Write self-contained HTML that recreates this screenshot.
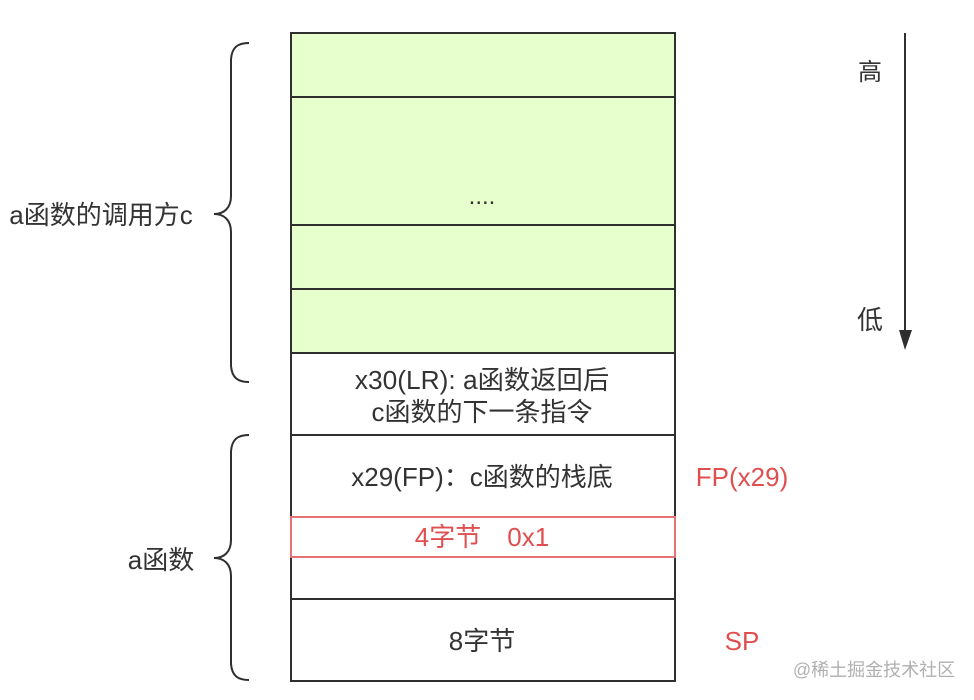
<!DOCTYPE html>
<html><head><meta charset="utf-8"><style>
html,body{margin:0;padding:0;background:#fff;width:974px;height:700px;overflow:hidden}
svg{display:block}
text{font-family:"Liberation Sans","Noto Sans CJK SC",sans-serif;font-size:26px;fill:#333;text-anchor:middle}
</style></head><body>
<svg width="974" height="700" viewBox="0 0 974 700">
<rect x="291.500" y="33" width="384" height="320" fill="#e6ffcc"/>
<g fill="none" stroke="#2f2f2f" stroke-width="2">
<rect x="291" y="33" width="384" height="648"/>
<path d="M291 97H675M291 225H675M291 289H675M291 353H675M291 435H675M291 599H675"/>
<path d="M249 43C238 43 232 47 231 59V196C231 208 224 214 214 214C224 214 231 220 231 232V366C232 378 238 382 249 382" stroke-width="2"/>
<path d="M249 435C238 435 232 439 231 451V540C231 552 224 558 214 558C224 558 231 564 231 576V664C232 676 238 680 249 680" stroke-width="2"/>
<path d="M905 33V332"/>
</g>
<path d="M899 330H912L905 350Z" fill="#2f2f2f"/>
<rect x="291" y="517" width="384" height="40" fill="none" stroke="#e57373" stroke-width="2"/>
<text x="482" y="204" style="font-size:24px">....</text>
<text x="482" y="389" style="font-size:26.300px">x30(LR): a函数返回后</text>
<text x="482" y="421">c函数的下一条指令</text>
<text x="482" y="486">x29(FP)：c函数的栈底</text>
<text x="482" y="546" style="fill:#e04f4f">4字节　0x1</text>
<text x="482" y="650">8字节</text>
<text x="101" y="224">a函数的调用方c</text>
<text x="161" y="569">a函数</text>
<text x="870" y="80" style="font-size:24px">高</text>
<text x="870" y="329">低</text>
<text x="742" y="486" style="fill:#e04f4f">FP(x29)</text>
<text x="742" y="650" style="fill:#e04f4f">SP</text>
<text x="874" y="676" style="font-size:18px;fill:#b0b0b0">@稀土掘金技术社区</text>
</svg>
</body></html>
